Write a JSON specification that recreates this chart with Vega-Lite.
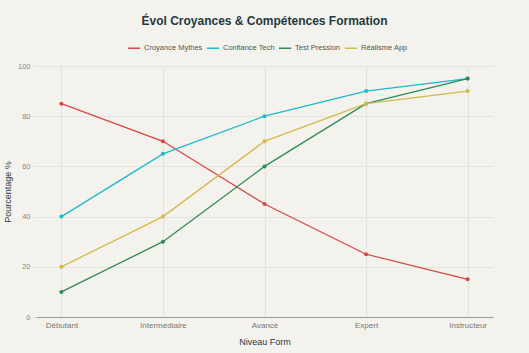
{
  "$schema": "https://vega.github.io/schema/vega-lite/v6.json",
  "width": 457,
  "height": 251,
  "autosize": {"type": "none"},
  "padding": {"left": 36, "top": 66, "right": 36, "bottom": 36},
  "background": "#f3f2ec",
  "title": {
    "text": "Évol Croyances & Compétences Formation",
    "fontSize": 12,
    "font": "Liberation Sans",
    "fontWeight": "bold",
    "color": "#1f3a40",
    "anchor": "middle",
    "offset": 13
  },
  "data": {
    "values": [
      {"niveau": "Débutant", "serie": "Croyance Mythes", "valeur": 85},
      {"niveau": "Intermédiaire", "serie": "Croyance Mythes", "valeur": 70},
      {"niveau": "Avancé", "serie": "Croyance Mythes", "valeur": 45},
      {"niveau": "Expert", "serie": "Croyance Mythes", "valeur": 25},
      {"niveau": "Instructeur", "serie": "Croyance Mythes", "valeur": 15},
      {"niveau": "Débutant", "serie": "Confiance Tech", "valeur": 40},
      {"niveau": "Intermédiaire", "serie": "Confiance Tech", "valeur": 65},
      {"niveau": "Avancé", "serie": "Confiance Tech", "valeur": 80},
      {"niveau": "Expert", "serie": "Confiance Tech", "valeur": 90},
      {"niveau": "Instructeur", "serie": "Confiance Tech", "valeur": 95},
      {"niveau": "Débutant", "serie": "Test Pression", "valeur": 10},
      {"niveau": "Intermédiaire", "serie": "Test Pression", "valeur": 30},
      {"niveau": "Avancé", "serie": "Test Pression", "valeur": 60},
      {"niveau": "Expert", "serie": "Test Pression", "valeur": 85},
      {"niveau": "Instructeur", "serie": "Test Pression", "valeur": 95},
      {"niveau": "Débutant", "serie": "Réalisme App", "valeur": 20},
      {"niveau": "Intermédiaire", "serie": "Réalisme App", "valeur": 40},
      {"niveau": "Avancé", "serie": "Réalisme App", "valeur": 70},
      {"niveau": "Expert", "serie": "Réalisme App", "valeur": 85},
      {"niveau": "Instructeur", "serie": "Réalisme App", "valeur": 90}
    ]
  },
  "mark": {"type": "line", "strokeWidth": 1.3, "point": {"size": 16, "filled": true}},
  "encoding": {
    "x": {
      "field": "niveau",
      "type": "ordinal",
      "sort": ["Débutant", "Intermédiaire", "Avancé", "Expert", "Instructeur"],
      "scale": {"type": "point", "padding": 0.25},
      "axis": {
        "title": "Niveau Form",
        "titleFontSize": 9,
        "titleFontWeight": "normal",
        "titleColor": "#1f3a40",
        "titlePadding": 8,
        "labelAngle": 0,
        "labelFontSize": 8,
        "labelColor": "#777777",
        "labelPadding": 4,
        "domainColor": "#9a9a9a",
        "domainWidth": 1.2,
        "ticks": false,
        "grid": true,
        "gridColor": "#e3e2dc"
      }
    },
    "y": {
      "field": "valeur",
      "type": "quantitative",
      "scale": {"domain": [0, 100]},
      "axis": {
        "title": "Pourcentage %",
        "titleFontSize": 9,
        "titleFontWeight": "normal",
        "titleColor": "#1f3a40",
        "titleBaseline": "middle",
        "titleX": -29,
        "values": [0, 20, 40, 60, 80, 100],
        "labelFontSize": 7.5,
        "labelColor": "#888888",
        "domain": false,
        "ticks": true,
        "tickSize": 4,
        "tickColor": "#e3e2dc",
        "gridColor": "#e3e2dc",
        "labelPadding": 2
      }
    },
    "color": {
      "field": "serie",
      "type": "nominal",
      "sort": ["Croyance Mythes", "Confiance Tech", "Test Pression", "Réalisme App"],
      "scale": {
        "domain": ["Croyance Mythes", "Confiance Tech", "Test Pression", "Réalisme App"],
        "range": ["#DB4545", "#1FB8CD", "#2E8B57", "#D2BA4C"]
      },
      "legend": {
        "title": null,
        "orient": "none",
        "legendX": 91,
        "legendY": -25,
        "direction": "horizontal",
        "labelFontSize": 7.5,
        "labelColor": "#555555",
        "labelOffset": 3,
        "symbolType": "stroke",
        "symbolSize": 150,
        "symbolStrokeWidth": 1.5,
        "columnPadding": 0
      }
    }
  },
  "config": {
    "font": "Liberation Sans",
    "view": {"stroke": null}
  }
}
